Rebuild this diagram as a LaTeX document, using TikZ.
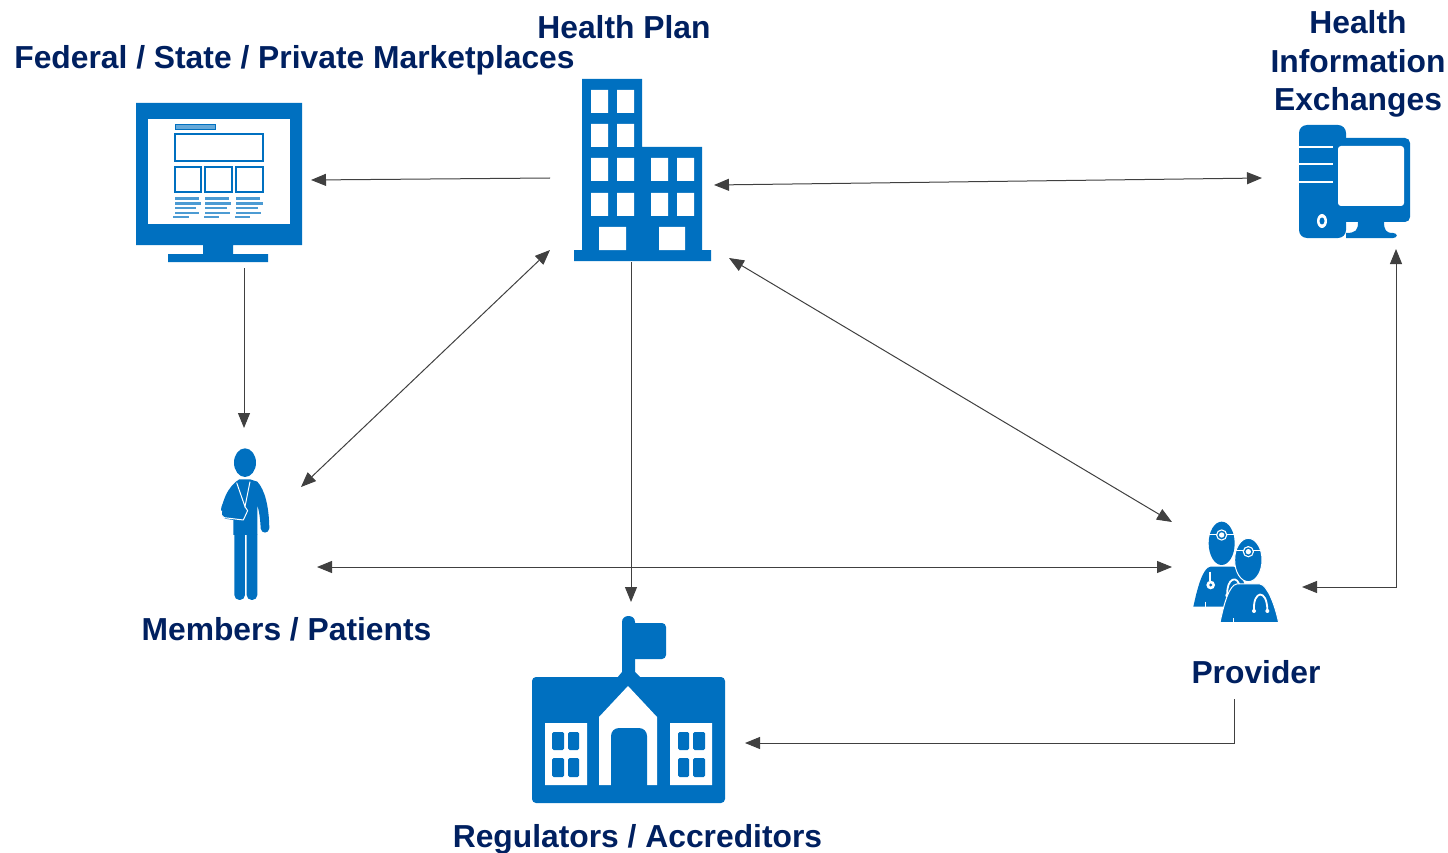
\documentclass[tikz,border=0pt]{standalone}
\usepackage{fontspec}
\setmainfont{Liberation Sans}
\usetikzlibrary{arrows.meta}
\definecolor{iconblue}{HTML}{0070C0}
\definecolor{labelnavy}{HTML}{002060}
\definecolor{linkgrey}{HTML}{404040}
\begin{document}
\begin{tikzpicture}[x=1pt, y=-1pt,
    label/.style={text=labelnavy, font=\fontsize{31.8}{38.5}\selectfont\bfseries, align=center, inner sep=0pt},
    link/.style={draw=linkgrey, line width=1pt, -{Triangle[length=15pt,width=12pt]}},
    biglink/.style={link, {Triangle[length=15pt,width=12pt]}-{Triangle[length=15pt,width=12pt]}},
    slot/.style={draw=white, line width=2.8pt}]
    \useasboundingbox (0,0) rectangle (1448,853);

    % monitor
    \fill [iconblue] (136,103) rectangle (302,245) (203,245) rectangle (233,254) (168,254) rectangle (268,262);
    \fill [white] (148,119) rectangle (290,224);
    \draw [iconblue, fill=iconblue!60, line width=1pt] (175,124.5) rectangle (215,129.5);
    \draw [iconblue, line width=1.6pt] (175,134) rectangle (263,161) (175,167) rectangle (201,192) (205,167) rectangle (232,192) (236,167) rectangle (263,192);
    \draw [iconblue!70, line width=2.6pt] (175,198.5) -- (199,198.5) (175,203.5) -- (201,203.5) (175,208) -- (196,208) (175,213) -- (199,213) (173,217) -- (189,217);
    \draw [iconblue!70, line width=2.6pt] (205,198.5) -- (229,198.5) (205,203.5) -- (231,203.5) (205,208) -- (227,208) (205,213) -- (230,213) (204,217) -- (219,217);
    \draw [iconblue!70, line width=2.6pt] (236,198.5) -- (260,198.5) (236,203.5) -- (263,203.5) (236,208) -- (258,208) (236,213) -- (261,213) (235,217) -- (250,217);

    % building
    \fill [iconblue] (582,79) rectangle (642,250) (642,147) rectangle (702,250) (574,250) rectangle (711,261);
    \fill [white] (591,90) rectangle (608,113) (617,90) rectangle (634,113)
        (591,124) rectangle (608,147) (617,124) rectangle (634,147)
        (591,158) rectangle (608,181) (617,158) rectangle (634,181) (651,158) rectangle (668,181) (677,158) rectangle (694,181)
        (591,193) rectangle (608,216) (617,193) rectangle (634,216) (651,193) rectangle (668,216) (677,193) rectangle (694,216)
        (599,227) rectangle (626,250) (659,227) rectangle (685,250);

    % computer
    \fill [iconblue, rounded corners=8pt] (1299,125) rectangle (1346,238);
    \fill [iconblue, rounded corners=5pt] (1340,138) rectangle (1410,222);
    \fill [iconblue] (1358,222) -- (1384,222) .. controls (1384,230) and (1386,233) .. (1393,233) .. controls (1398,233) and (1398,238) .. (1393,238) -- (1346,238) -- (1346,233) .. controls (1356,233) and (1358,230) .. (1358,222) -- cycle;
    \fill [white, rounded corners=3pt] (1338,146) rectangle (1404,206);
    \draw [slot] (1299,147) -- (1333,147) (1299,164) -- (1333,164) (1299,182) -- (1333,182);
    \fill [white] (1322,221) ellipse [x radius=5, y radius=7];
    \fill [iconblue] (1322,221) ellipse [x radius=2.5, y radius=3.5];

    % person
    \begin{scope}[shift={(200,440)}, x=.3333pt, y=-.3333pt]
        \fill [iconblue] (135,68) ellipse [x radius=33, y radius=43];
        \fill [iconblue] (118,118) -- (150,118) -- (172,125) .. controls (195,150) and (207,200) .. (208,265) .. controls (206,282) and (184,282) .. (182,265) .. controls (181,240) and (178,215) .. (172,195) -- (172,285) -- (100,285) -- (100,240) -- (75,236) .. controls (60,230) and (60,205) .. (70,185) .. controls (78,160) and (90,140) .. (108,125) -- cycle;
        \fill [iconblue, rounded corners=5pt] (103,270) rectangle (135,480) (140,270) rectangle (172,480);
        \draw [white, line width=1pt] (110,128) -- (135,200) -- (150,125);
        \draw [white, line width=1pt, line join=round] (135,200) -- (143,212) -- (130,240) -- (72,233) .. controls (64,230) and (62,222) .. (65,212);
    \end{scope}

    % doctors
    \begin{scope}[shift={(1180,510)}, x=.3333pt, y=-.3333pt]
        \fill [iconblue] (125,100) ellipse [x radius=39, y radius=65];
        \fill [iconblue] (40,290) .. controls (52,235) and (68,172) .. (92,170) -- (160,170) .. controls (180,172) and (200,235) .. (210,290) -- cycle;
        \draw [white, line width=1.6pt] (87,73) -- (163,73);
        \fill [white] (125,75) circle [radius=17];
        \fill [iconblue] (125,75) circle [radius=13];
        \fill [white] (125,75) circle [radius=8];
        \draw [white, line width=1.6pt] (90,185) -- (90,212);
        \fill [white] (92,225) circle [radius=13];
        \fill [iconblue] (92,225) circle [radius=5];
        \draw [white, line width=1.8pt] (142,255) .. controls (138,205) and (175,190) .. (180,235);
        \fill [white] (142,256) circle [radius=6];
        \draw [white, line width=1pt] (75,275) -- (75,290);
        \filldraw [iconblue, draw=white, line width=1pt] (120,338) .. controls (132,280) and (148,225) .. (170,222) -- (240,222) .. controls (262,225) and (285,285) .. (296,338) -- cycle;
        \filldraw [iconblue, draw=white, line width=1pt] (205,150) ellipse [x radius=41, y radius=65];
        \draw [white, line width=1.6pt] (166,122) -- (244,122);
        \fill [white] (205,125) circle [radius=17];
        \fill [iconblue] (205,125) circle [radius=13];
        \fill [white] (205,125) circle [radius=8];
        \draw [white, line width=1.8pt] (222,302) .. controls (218,240) and (262,235) .. (262,302);
        \fill [white] (222,303) circle [radius=6] (262,303) circle [radius=6];
        \draw [white, line width=1pt] (160,325) -- (160,338);
    \end{scope}

    % school
    \fill [iconblue, rounded corners=4pt] (532,677) rectangle (725,803);
    \fill [iconblue] (617,678) -- (622,672) -- (622,622) .. controls (622,614) and (635,614) .. (635,622) -- (635,672) -- (641,678) -- cycle;
    \fill [iconblue, rounded corners=4pt] (630,623) rectangle (666,659);
    \fill [white] (628,686) -- (657,717) -- (657,785) -- (599,785) -- (599,717) -- cycle;
    \fill [iconblue, rounded corners=8pt] (611,795) -- (611,728) -- (647,728) -- (647,795) -- cycle;
    \fill [white] (545,723) rectangle (587,785) (670,723) rectangle (712,785);
    \fill [iconblue, rounded corners=1.5pt] (552,732) rectangle (564,750) (568,732) rectangle (579,750) (552,758) rectangle (564,777) (568,758) rectangle (579,777)
        (678,732) rectangle (689,750) (693,732) rectangle (705,750) (678,758) rectangle (689,777) (693,758) rectangle (705,777);

    % labels
    \node [label] (planLabel) at (624,27) {Health Plan};
    \node [label] (marketLabel) at (294.5,60) {Federal / State / Private Marketplaces};
    \node [label] (hieLabel) at (1358,64) {Health\\Information\\Exchanges};
    \node [label] (memberLabel) at (286.5,629) {Members / Patients};
    \node [label] (providerLabel) at (1256,672) {Provider};
    \node [label] (regulatorLabel) at (637.5,839) {Regulators / Accreditors};

    % link ends
    \coordinate (planW) at (550,178);
    \coordinate (marketE) at (311,180);
    \coordinate (planE) at (714,185);
    \coordinate (hieW) at (1262,178);
    \coordinate (marketS) at (244,268);
    \coordinate (memberN) at (244,428);
    \coordinate (planSW) at (550,250);
    \coordinate (memberNE) at (301,487);
    \coordinate (planS) at (631,262);
    \coordinate (regulatorN) at (631,602);
    \coordinate (planSE) at (729,258);
    \coordinate (providerNW) at (1172,522);
    \coordinate (memberE) at (317,567);
    \coordinate (providerW) at (1172,567);
    \coordinate (hieS) at (1396,249);
    \coordinate (providerE) at (1302,587);
    \coordinate (providerS) at (1234,699);
    \coordinate (regulatorE) at (745,743);

    \draw [link] (planW) -- (marketE);
    \draw [biglink] (planE) -- (hieW);
    \draw [link] (marketS) -- (memberN);
    \draw [biglink] (planSW) -- (memberNE);
    \draw [link] (planS) -- (regulatorN);
    \draw [biglink] (planSE) -- (providerNW);
    \draw [biglink] (memberE) -- (providerW);
    \draw [biglink] (hieS) |- (providerE);
    \draw [link] (providerS) |- (regulatorE);
\end{tikzpicture}
\end{document}
